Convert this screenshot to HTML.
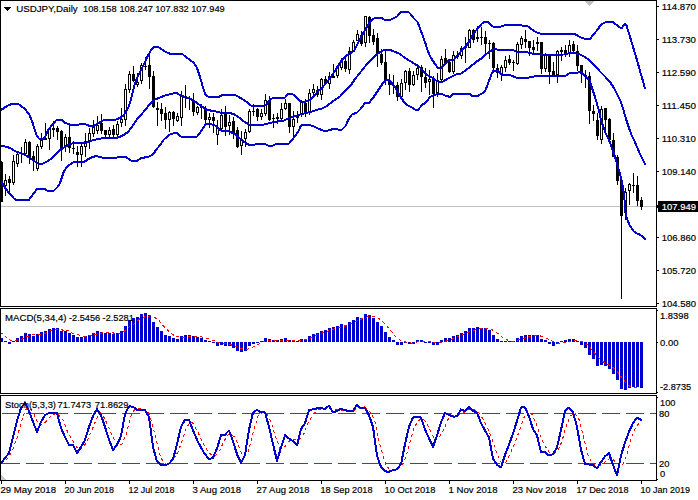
<!DOCTYPE html><html><head><meta charset="utf-8"><title>USDJPY,Daily</title>
<style>html,body{margin:0;padding:0;background:#fff;overflow:hidden}svg{display:block}text{font-family:"Liberation Sans",sans-serif;font-size:9.7px;fill:#000;stroke:#000;stroke-width:0.18px}</style></head><body>
<svg width="698" height="500" viewBox="0 0 698 500">
<rect width="698" height="500" fill="#fff"/>
<g shape-rendering="crispEdges">
<rect x="0" y="206" width="658" height="1" fill="#c0c0c0"/>
<rect x="585" y="1" width="9" height="1" fill="#c0c0c0"/>
<rect x="586" y="2" width="7" height="1" fill="#c0c0c0"/>
<rect x="587" y="3" width="5" height="1" fill="#c0c0c0"/>
<rect x="588" y="4" width="3" height="1" fill="#c0c0c0"/>
<rect x="589" y="5" width="1" height="1" fill="#c0c0c0"/>
<rect x="1" y="475" width="1" height="1" fill="#cccccc"/>
<rect x="1" y="476" width="2" height="1" fill="#cccccc"/>
<rect x="1" y="477" width="3" height="1" fill="#cccccc"/>
<rect x="1" y="478" width="4" height="1" fill="#cccccc"/>
<rect x="1" y="479" width="5" height="1" fill="#cccccc"/>
</g>
<g shape-rendering="crispEdges">
<rect x="1" y="161" width="1" height="41" fill="#000"/>
<rect x="0" y="162" width="3" height="40" fill="#000"/>
<rect x="5" y="174" width="1" height="22" fill="#000"/>
<rect x="4" y="180" width="3" height="6" fill="#000"/>
<rect x="5" y="181" width="1" height="4" fill="#fff"/>
<rect x="9" y="176" width="1" height="19" fill="#000"/>
<rect x="8" y="179" width="3" height="4" fill="#000"/>
<rect x="13" y="155" width="1" height="30" fill="#000"/>
<rect x="12" y="161" width="3" height="22" fill="#000"/>
<rect x="13" y="162" width="1" height="20" fill="#fff"/>
<rect x="17" y="153" width="1" height="14" fill="#000"/>
<rect x="16" y="154" width="3" height="10" fill="#000"/>
<rect x="17" y="155" width="1" height="8" fill="#fff"/>
<rect x="21" y="147" width="1" height="16" fill="#000"/>
<rect x="20" y="153" width="3" height="1" fill="#000"/>
<rect x="25" y="139" width="1" height="15" fill="#000"/>
<rect x="24" y="142" width="3" height="12" fill="#000"/>
<rect x="25" y="143" width="1" height="10" fill="#fff"/>
<rect x="29" y="141" width="1" height="23" fill="#000"/>
<rect x="28" y="142" width="3" height="15" fill="#000"/>
<rect x="33" y="151" width="1" height="20" fill="#000"/>
<rect x="32" y="156" width="3" height="5" fill="#000"/>
<rect x="37" y="144" width="1" height="27" fill="#000"/>
<rect x="36" y="146" width="3" height="23" fill="#000"/>
<rect x="37" y="147" width="1" height="21" fill="#fff"/>
<rect x="41" y="133" width="1" height="16" fill="#000"/>
<rect x="40" y="140" width="3" height="7" fill="#000"/>
<rect x="41" y="141" width="1" height="5" fill="#fff"/>
<rect x="45" y="123" width="1" height="17" fill="#000"/>
<rect x="44" y="138" width="3" height="2" fill="#000"/>
<rect x="49" y="128" width="1" height="22" fill="#000"/>
<rect x="48" y="128" width="3" height="11" fill="#000"/>
<rect x="49" y="129" width="1" height="9" fill="#fff"/>
<rect x="53" y="121" width="1" height="16" fill="#000"/>
<rect x="52" y="128" width="3" height="2" fill="#000"/>
<rect x="57" y="126" width="1" height="14" fill="#000"/>
<rect x="56" y="128" width="3" height="4" fill="#000"/>
<rect x="61" y="130" width="1" height="31" fill="#000"/>
<rect x="60" y="131" width="3" height="17" fill="#000"/>
<rect x="65" y="134" width="1" height="18" fill="#000"/>
<rect x="64" y="137" width="3" height="10" fill="#000"/>
<rect x="65" y="138" width="1" height="8" fill="#fff"/>
<rect x="69" y="125" width="1" height="28" fill="#000"/>
<rect x="68" y="137" width="3" height="11" fill="#000"/>
<rect x="73" y="141" width="1" height="13" fill="#000"/>
<rect x="72" y="148" width="3" height="1" fill="#000"/>
<rect x="77" y="146" width="1" height="21" fill="#000"/>
<rect x="76" y="152" width="3" height="3" fill="#000"/>
<rect x="81" y="142" width="1" height="25" fill="#000"/>
<rect x="80" y="146" width="3" height="9" fill="#000"/>
<rect x="81" y="147" width="1" height="7" fill="#fff"/>
<rect x="85" y="133" width="1" height="24" fill="#000"/>
<rect x="84" y="141" width="3" height="6" fill="#000"/>
<rect x="85" y="142" width="1" height="4" fill="#fff"/>
<rect x="89" y="128" width="1" height="21" fill="#000"/>
<rect x="88" y="133" width="3" height="8" fill="#000"/>
<rect x="89" y="134" width="1" height="6" fill="#fff"/>
<rect x="93" y="120" width="1" height="17" fill="#000"/>
<rect x="92" y="127" width="3" height="7" fill="#000"/>
<rect x="93" y="128" width="1" height="5" fill="#fff"/>
<rect x="97" y="116" width="1" height="18" fill="#000"/>
<rect x="96" y="125" width="3" height="6" fill="#000"/>
<rect x="97" y="126" width="1" height="4" fill="#fff"/>
<rect x="101" y="114" width="1" height="20" fill="#000"/>
<rect x="100" y="123" width="3" height="8" fill="#000"/>
<rect x="105" y="130" width="1" height="8" fill="#000"/>
<rect x="104" y="130" width="3" height="5" fill="#000"/>
<rect x="109" y="127" width="1" height="11" fill="#000"/>
<rect x="108" y="130" width="3" height="5" fill="#000"/>
<rect x="109" y="131" width="1" height="3" fill="#fff"/>
<rect x="113" y="125" width="1" height="12" fill="#000"/>
<rect x="112" y="129" width="3" height="6" fill="#000"/>
<rect x="117" y="121" width="1" height="16" fill="#000"/>
<rect x="116" y="124" width="3" height="11" fill="#000"/>
<rect x="117" y="125" width="1" height="9" fill="#fff"/>
<rect x="121" y="108" width="1" height="19" fill="#000"/>
<rect x="120" y="119" width="3" height="4" fill="#000"/>
<rect x="121" y="120" width="1" height="2" fill="#fff"/>
<rect x="125" y="84" width="1" height="42" fill="#000"/>
<rect x="124" y="89" width="3" height="31" fill="#000"/>
<rect x="125" y="90" width="1" height="29" fill="#fff"/>
<rect x="129" y="71" width="1" height="22" fill="#000"/>
<rect x="128" y="74" width="3" height="16" fill="#000"/>
<rect x="129" y="75" width="1" height="14" fill="#fff"/>
<rect x="133" y="66" width="1" height="16" fill="#000"/>
<rect x="132" y="74" width="3" height="7" fill="#000"/>
<rect x="137" y="73" width="1" height="14" fill="#000"/>
<rect x="136" y="82" width="3" height="3" fill="#000"/>
<rect x="137" y="83" width="1" height="1" fill="#fff"/>
<rect x="141" y="63" width="1" height="21" fill="#000"/>
<rect x="140" y="65" width="3" height="16" fill="#000"/>
<rect x="141" y="66" width="1" height="14" fill="#fff"/>
<rect x="145" y="57" width="1" height="13" fill="#000"/>
<rect x="144" y="66" width="3" height="1" fill="#000"/>
<rect x="149" y="54" width="1" height="35" fill="#000"/>
<rect x="148" y="65" width="3" height="12" fill="#000"/>
<rect x="153" y="71" width="1" height="37" fill="#000"/>
<rect x="152" y="76" width="3" height="31" fill="#000"/>
<rect x="157" y="102" width="1" height="24" fill="#000"/>
<rect x="156" y="108" width="3" height="2" fill="#000"/>
<rect x="161" y="103" width="1" height="18" fill="#000"/>
<rect x="160" y="109" width="3" height="5" fill="#000"/>
<rect x="165" y="107" width="1" height="22" fill="#000"/>
<rect x="164" y="113" width="3" height="7" fill="#000"/>
<rect x="169" y="111" width="1" height="21" fill="#000"/>
<rect x="168" y="112" width="3" height="8" fill="#000"/>
<rect x="169" y="113" width="1" height="6" fill="#fff"/>
<rect x="173" y="111" width="1" height="15" fill="#000"/>
<rect x="172" y="112" width="3" height="7" fill="#000"/>
<rect x="177" y="113" width="1" height="9" fill="#000"/>
<rect x="176" y="116" width="3" height="5" fill="#000"/>
<rect x="177" y="117" width="1" height="3" fill="#fff"/>
<rect x="181" y="91" width="1" height="35" fill="#000"/>
<rect x="180" y="96" width="3" height="22" fill="#000"/>
<rect x="181" y="97" width="1" height="20" fill="#fff"/>
<rect x="185" y="85" width="1" height="23" fill="#000"/>
<rect x="184" y="96" width="3" height="1" fill="#000"/>
<rect x="189" y="96" width="1" height="14" fill="#000"/>
<rect x="188" y="98" width="3" height="1" fill="#000"/>
<rect x="193" y="93" width="1" height="23" fill="#000"/>
<rect x="192" y="100" width="3" height="12" fill="#000"/>
<rect x="197" y="106" width="1" height="9" fill="#000"/>
<rect x="196" y="107" width="3" height="6" fill="#000"/>
<rect x="197" y="108" width="1" height="4" fill="#fff"/>
<rect x="201" y="104" width="1" height="15" fill="#000"/>
<rect x="200" y="107" width="3" height="1" fill="#000"/>
<rect x="205" y="106" width="1" height="17" fill="#000"/>
<rect x="204" y="110" width="3" height="10" fill="#000"/>
<rect x="209" y="113" width="1" height="15" fill="#000"/>
<rect x="208" y="117" width="3" height="3" fill="#000"/>
<rect x="209" y="118" width="1" height="1" fill="#fff"/>
<rect x="213" y="113" width="1" height="20" fill="#000"/>
<rect x="212" y="117" width="3" height="4" fill="#000"/>
<rect x="217" y="120" width="1" height="25" fill="#000"/>
<rect x="216" y="127" width="3" height="8" fill="#000"/>
<rect x="217" y="128" width="1" height="6" fill="#fff"/>
<rect x="221" y="109" width="1" height="21" fill="#000"/>
<rect x="220" y="115" width="3" height="14" fill="#000"/>
<rect x="221" y="116" width="1" height="12" fill="#fff"/>
<rect x="225" y="106" width="1" height="30" fill="#000"/>
<rect x="224" y="114" width="3" height="13" fill="#000"/>
<rect x="229" y="115" width="1" height="20" fill="#000"/>
<rect x="228" y="122" width="3" height="4" fill="#000"/>
<rect x="229" y="123" width="1" height="2" fill="#fff"/>
<rect x="233" y="117" width="1" height="22" fill="#000"/>
<rect x="232" y="121" width="3" height="12" fill="#000"/>
<rect x="237" y="127" width="1" height="21" fill="#000"/>
<rect x="236" y="130" width="3" height="17" fill="#000"/>
<rect x="241" y="131" width="1" height="24" fill="#000"/>
<rect x="240" y="139" width="3" height="7" fill="#000"/>
<rect x="241" y="140" width="1" height="5" fill="#fff"/>
<rect x="245" y="129" width="1" height="18" fill="#000"/>
<rect x="244" y="132" width="3" height="7" fill="#000"/>
<rect x="245" y="133" width="1" height="5" fill="#fff"/>
<rect x="249" y="109" width="1" height="24" fill="#000"/>
<rect x="248" y="111" width="3" height="21" fill="#000"/>
<rect x="249" y="112" width="1" height="19" fill="#fff"/>
<rect x="253" y="104" width="1" height="12" fill="#000"/>
<rect x="252" y="111" width="3" height="1" fill="#000"/>
<rect x="257" y="108" width="1" height="13" fill="#000"/>
<rect x="256" y="109" width="3" height="8" fill="#000"/>
<rect x="261" y="109" width="1" height="11" fill="#000"/>
<rect x="260" y="113" width="3" height="4" fill="#000"/>
<rect x="261" y="114" width="1" height="2" fill="#fff"/>
<rect x="265" y="94" width="1" height="22" fill="#000"/>
<rect x="264" y="100" width="3" height="14" fill="#000"/>
<rect x="265" y="101" width="1" height="12" fill="#fff"/>
<rect x="269" y="96" width="1" height="25" fill="#000"/>
<rect x="268" y="101" width="3" height="19" fill="#000"/>
<rect x="273" y="114" width="1" height="14" fill="#000"/>
<rect x="272" y="118" width="3" height="1" fill="#000"/>
<rect x="277" y="113" width="1" height="11" fill="#000"/>
<rect x="276" y="117" width="3" height="2" fill="#000"/>
<rect x="281" y="103" width="1" height="17" fill="#000"/>
<rect x="280" y="109" width="3" height="10" fill="#000"/>
<rect x="281" y="110" width="1" height="8" fill="#fff"/>
<rect x="285" y="99" width="1" height="11" fill="#000"/>
<rect x="284" y="103" width="3" height="6" fill="#000"/>
<rect x="285" y="104" width="1" height="4" fill="#fff"/>
<rect x="289" y="103" width="1" height="30" fill="#000"/>
<rect x="288" y="103" width="3" height="24" fill="#000"/>
<rect x="293" y="111" width="1" height="26" fill="#000"/>
<rect x="292" y="119" width="3" height="8" fill="#000"/>
<rect x="293" y="120" width="1" height="6" fill="#fff"/>
<rect x="297" y="111" width="1" height="12" fill="#000"/>
<rect x="296" y="116" width="3" height="2" fill="#000"/>
<rect x="301" y="100" width="1" height="17" fill="#000"/>
<rect x="300" y="102" width="3" height="12" fill="#000"/>
<rect x="301" y="103" width="1" height="10" fill="#fff"/>
<rect x="305" y="99" width="1" height="18" fill="#000"/>
<rect x="304" y="103" width="3" height="9" fill="#000"/>
<rect x="309" y="89" width="1" height="26" fill="#000"/>
<rect x="308" y="93" width="3" height="19" fill="#000"/>
<rect x="309" y="94" width="1" height="17" fill="#fff"/>
<rect x="313" y="84" width="1" height="12" fill="#000"/>
<rect x="312" y="89" width="3" height="4" fill="#000"/>
<rect x="313" y="90" width="1" height="2" fill="#fff"/>
<rect x="317" y="86" width="1" height="11" fill="#000"/>
<rect x="316" y="90" width="3" height="5" fill="#000"/>
<rect x="321" y="78" width="1" height="22" fill="#000"/>
<rect x="320" y="79" width="3" height="16" fill="#000"/>
<rect x="321" y="80" width="1" height="14" fill="#fff"/>
<rect x="325" y="76" width="1" height="7" fill="#000"/>
<rect x="324" y="79" width="3" height="4" fill="#000"/>
<rect x="329" y="72" width="1" height="17" fill="#000"/>
<rect x="328" y="76" width="3" height="8" fill="#000"/>
<rect x="329" y="77" width="1" height="6" fill="#fff"/>
<rect x="333" y="64" width="1" height="14" fill="#000"/>
<rect x="332" y="76" width="3" height="2" fill="#000"/>
<rect x="337" y="65" width="1" height="13" fill="#000"/>
<rect x="336" y="67" width="3" height="9" fill="#000"/>
<rect x="337" y="68" width="1" height="7" fill="#fff"/>
<rect x="341" y="58" width="1" height="12" fill="#000"/>
<rect x="340" y="60" width="3" height="8" fill="#000"/>
<rect x="341" y="61" width="1" height="6" fill="#fff"/>
<rect x="345" y="57" width="1" height="15" fill="#000"/>
<rect x="344" y="61" width="3" height="8" fill="#000"/>
<rect x="349" y="47" width="1" height="27" fill="#000"/>
<rect x="348" y="51" width="3" height="19" fill="#000"/>
<rect x="349" y="52" width="1" height="17" fill="#fff"/>
<rect x="353" y="40" width="1" height="12" fill="#000"/>
<rect x="352" y="42" width="3" height="9" fill="#000"/>
<rect x="353" y="43" width="1" height="7" fill="#fff"/>
<rect x="357" y="30" width="1" height="11" fill="#000"/>
<rect x="356" y="34" width="3" height="7" fill="#000"/>
<rect x="357" y="35" width="1" height="5" fill="#fff"/>
<rect x="361" y="31" width="1" height="15" fill="#000"/>
<rect x="360" y="35" width="3" height="9" fill="#000"/>
<rect x="365" y="16" width="1" height="31" fill="#000"/>
<rect x="364" y="16" width="3" height="27" fill="#000"/>
<rect x="365" y="17" width="1" height="25" fill="#fff"/>
<rect x="369" y="16" width="1" height="27" fill="#000"/>
<rect x="368" y="17" width="3" height="19" fill="#000"/>
<rect x="373" y="29" width="1" height="16" fill="#000"/>
<rect x="372" y="35" width="3" height="7" fill="#000"/>
<rect x="377" y="33" width="1" height="34" fill="#000"/>
<rect x="376" y="38" width="3" height="16" fill="#000"/>
<rect x="381" y="49" width="1" height="16" fill="#000"/>
<rect x="380" y="54" width="3" height="9" fill="#000"/>
<rect x="385" y="51" width="1" height="34" fill="#000"/>
<rect x="384" y="62" width="3" height="18" fill="#000"/>
<rect x="389" y="74" width="1" height="21" fill="#000"/>
<rect x="388" y="81" width="3" height="4" fill="#000"/>
<rect x="393" y="75" width="1" height="19" fill="#000"/>
<rect x="392" y="85" width="3" height="1" fill="#000"/>
<rect x="397" y="82" width="1" height="19" fill="#000"/>
<rect x="396" y="85" width="3" height="12" fill="#000"/>
<rect x="401" y="79" width="1" height="18" fill="#000"/>
<rect x="400" y="83" width="3" height="14" fill="#000"/>
<rect x="401" y="84" width="1" height="12" fill="#fff"/>
<rect x="405" y="70" width="1" height="20" fill="#000"/>
<rect x="404" y="71" width="3" height="12" fill="#000"/>
<rect x="405" y="72" width="1" height="10" fill="#fff"/>
<rect x="409" y="68" width="1" height="24" fill="#000"/>
<rect x="408" y="71" width="3" height="14" fill="#000"/>
<rect x="413" y="71" width="1" height="15" fill="#000"/>
<rect x="412" y="75" width="3" height="10" fill="#000"/>
<rect x="413" y="76" width="1" height="8" fill="#fff"/>
<rect x="417" y="64" width="1" height="16" fill="#000"/>
<rect x="416" y="68" width="3" height="7" fill="#000"/>
<rect x="417" y="69" width="1" height="5" fill="#fff"/>
<rect x="421" y="65" width="1" height="27" fill="#000"/>
<rect x="420" y="67" width="3" height="10" fill="#000"/>
<rect x="425" y="68" width="1" height="20" fill="#000"/>
<rect x="424" y="77" width="3" height="6" fill="#000"/>
<rect x="429" y="70" width="1" height="25" fill="#000"/>
<rect x="428" y="79" width="3" height="3" fill="#000"/>
<rect x="429" y="80" width="1" height="1" fill="#fff"/>
<rect x="433" y="76" width="1" height="32" fill="#000"/>
<rect x="432" y="79" width="3" height="15" fill="#000"/>
<rect x="437" y="73" width="1" height="24" fill="#000"/>
<rect x="436" y="80" width="3" height="13" fill="#000"/>
<rect x="437" y="81" width="1" height="11" fill="#fff"/>
<rect x="441" y="56" width="1" height="25" fill="#000"/>
<rect x="440" y="59" width="3" height="21" fill="#000"/>
<rect x="441" y="60" width="1" height="19" fill="#fff"/>
<rect x="445" y="49" width="1" height="15" fill="#000"/>
<rect x="444" y="58" width="3" height="6" fill="#000"/>
<rect x="449" y="61" width="1" height="12" fill="#000"/>
<rect x="448" y="62" width="3" height="10" fill="#000"/>
<rect x="453" y="51" width="1" height="23" fill="#000"/>
<rect x="452" y="55" width="3" height="17" fill="#000"/>
<rect x="453" y="56" width="1" height="15" fill="#fff"/>
<rect x="457" y="51" width="1" height="8" fill="#000"/>
<rect x="456" y="55" width="3" height="2" fill="#000"/>
<rect x="461" y="46" width="1" height="13" fill="#000"/>
<rect x="460" y="48" width="3" height="8" fill="#000"/>
<rect x="461" y="49" width="1" height="6" fill="#fff"/>
<rect x="465" y="37" width="1" height="26" fill="#000"/>
<rect x="464" y="46" width="3" height="2" fill="#000"/>
<rect x="469" y="29" width="1" height="19" fill="#000"/>
<rect x="468" y="30" width="3" height="18" fill="#000"/>
<rect x="469" y="31" width="1" height="16" fill="#fff"/>
<rect x="473" y="29" width="1" height="14" fill="#000"/>
<rect x="472" y="30" width="3" height="10" fill="#000"/>
<rect x="477" y="26" width="1" height="16" fill="#000"/>
<rect x="476" y="37" width="3" height="2" fill="#000"/>
<rect x="481" y="27" width="1" height="18" fill="#000"/>
<rect x="480" y="37" width="3" height="1" fill="#000"/>
<rect x="485" y="31" width="1" height="22" fill="#000"/>
<rect x="484" y="37" width="3" height="7" fill="#000"/>
<rect x="489" y="40" width="1" height="19" fill="#000"/>
<rect x="488" y="43" width="3" height="1" fill="#000"/>
<rect x="493" y="42" width="1" height="28" fill="#000"/>
<rect x="492" y="43" width="3" height="25" fill="#000"/>
<rect x="497" y="64" width="1" height="14" fill="#000"/>
<rect x="496" y="68" width="3" height="5" fill="#000"/>
<rect x="501" y="65" width="1" height="16" fill="#000"/>
<rect x="500" y="67" width="3" height="7" fill="#000"/>
<rect x="501" y="68" width="1" height="5" fill="#fff"/>
<rect x="505" y="56" width="1" height="16" fill="#000"/>
<rect x="504" y="60" width="3" height="8" fill="#000"/>
<rect x="505" y="61" width="1" height="6" fill="#fff"/>
<rect x="509" y="55" width="1" height="10" fill="#000"/>
<rect x="508" y="59" width="3" height="4" fill="#000"/>
<rect x="513" y="60" width="1" height="11" fill="#000"/>
<rect x="512" y="62" width="3" height="1" fill="#000"/>
<rect x="517" y="42" width="1" height="23" fill="#000"/>
<rect x="516" y="44" width="3" height="20" fill="#000"/>
<rect x="517" y="45" width="1" height="18" fill="#fff"/>
<rect x="521" y="36" width="1" height="13" fill="#000"/>
<rect x="520" y="38" width="3" height="7" fill="#000"/>
<rect x="521" y="39" width="1" height="5" fill="#fff"/>
<rect x="525" y="30" width="1" height="18" fill="#000"/>
<rect x="524" y="39" width="3" height="3" fill="#000"/>
<rect x="529" y="41" width="1" height="15" fill="#000"/>
<rect x="528" y="41" width="3" height="7" fill="#000"/>
<rect x="533" y="40" width="1" height="13" fill="#000"/>
<rect x="532" y="47" width="3" height="3" fill="#000"/>
<rect x="537" y="37" width="1" height="14" fill="#000"/>
<rect x="536" y="42" width="3" height="2" fill="#000"/>
<rect x="541" y="42" width="1" height="32" fill="#000"/>
<rect x="540" y="42" width="3" height="27" fill="#000"/>
<rect x="545" y="53" width="1" height="19" fill="#000"/>
<rect x="544" y="55" width="3" height="14" fill="#000"/>
<rect x="545" y="56" width="1" height="12" fill="#fff"/>
<rect x="549" y="56" width="1" height="28" fill="#000"/>
<rect x="548" y="56" width="3" height="16" fill="#000"/>
<rect x="553" y="62" width="1" height="14" fill="#000"/>
<rect x="552" y="71" width="3" height="4" fill="#000"/>
<rect x="557" y="50" width="1" height="33" fill="#000"/>
<rect x="556" y="51" width="3" height="24" fill="#000"/>
<rect x="557" y="52" width="1" height="22" fill="#fff"/>
<rect x="561" y="47" width="1" height="14" fill="#000"/>
<rect x="560" y="50" width="3" height="2" fill="#000"/>
<rect x="565" y="45" width="1" height="12" fill="#000"/>
<rect x="564" y="50" width="3" height="4" fill="#000"/>
<rect x="569" y="40" width="1" height="17" fill="#000"/>
<rect x="568" y="45" width="3" height="9" fill="#000"/>
<rect x="569" y="46" width="1" height="7" fill="#fff"/>
<rect x="573" y="41" width="1" height="12" fill="#000"/>
<rect x="572" y="44" width="3" height="7" fill="#000"/>
<rect x="577" y="45" width="1" height="26" fill="#000"/>
<rect x="576" y="51" width="3" height="15" fill="#000"/>
<rect x="581" y="65" width="1" height="18" fill="#000"/>
<rect x="580" y="65" width="3" height="9" fill="#000"/>
<rect x="585" y="70" width="1" height="18" fill="#000"/>
<rect x="584" y="75" width="3" height="1" fill="#000"/>
<rect x="589" y="72" width="1" height="52" fill="#000"/>
<rect x="588" y="76" width="3" height="35" fill="#000"/>
<rect x="593" y="105" width="1" height="16" fill="#000"/>
<rect x="592" y="111" width="3" height="3" fill="#000"/>
<rect x="597" y="113" width="1" height="27" fill="#000"/>
<rect x="596" y="120" width="3" height="16" fill="#000"/>
<rect x="601" y="106" width="1" height="38" fill="#000"/>
<rect x="600" y="109" width="3" height="31" fill="#000"/>
<rect x="601" y="110" width="1" height="29" fill="#fff"/>
<rect x="605" y="108" width="1" height="22" fill="#000"/>
<rect x="604" y="108" width="3" height="12" fill="#000"/>
<rect x="609" y="118" width="1" height="23" fill="#000"/>
<rect x="608" y="119" width="3" height="21" fill="#000"/>
<rect x="613" y="133" width="1" height="24" fill="#000"/>
<rect x="612" y="140" width="3" height="17" fill="#000"/>
<rect x="617" y="155" width="1" height="30" fill="#000"/>
<rect x="616" y="157" width="3" height="24" fill="#000"/>
<rect x="621" y="176" width="1" height="123" fill="#000"/>
<rect x="620" y="180" width="3" height="36" fill="#000"/>
<rect x="625" y="188" width="1" height="32" fill="#000"/>
<rect x="624" y="192" width="3" height="21" fill="#000"/>
<rect x="625" y="193" width="1" height="19" fill="#fff"/>
<rect x="629" y="183" width="1" height="22" fill="#000"/>
<rect x="628" y="184" width="3" height="7" fill="#000"/>
<rect x="629" y="185" width="1" height="5" fill="#fff"/>
<rect x="633" y="173" width="1" height="20" fill="#000"/>
<rect x="632" y="185" width="3" height="1" fill="#000"/>
<rect x="637" y="176" width="1" height="30" fill="#000"/>
<rect x="636" y="185" width="3" height="16" fill="#000"/>
<rect x="641" y="197" width="1" height="13" fill="#000"/>
<rect x="640" y="200" width="3" height="7" fill="#000"/>
</g>
<g shape-rendering="crispEdges">
<polyline points="1,110 7,106 13,103.5 19,104.5 24.5,108.5 29,114 31,118.5 33,124 35,131 37,136 39,138.5 42,139.5 45,137 48,130 52,125 56,120.5 59,119.5 62,120 65,123 70,124.5 76,125 84,123.8 90,126 94,126 100,122 104,120 106,119.5 116,119.5 120,118 124,115 128,108 130,103 132,95 134,87 136,80.5 140,72 144,64 148,55.5 152,48.5 155,46.5 158,47 162,49.5 166,52 170,53.8 182,53.8 186,57 190,60 194,63 197,68 200,77 202,84 204,91 206,95.5 209,97 219,97 222,95 228,95 235,95 239,97 246,101.5 251,105.5 262,106 266,105 269,101 272,98.5 282,98 285,97.5 288,94 291,93.5 294,95 298,99 301,101.5 306,101.5 310,100 314,96 318,91 322,88 326,83 330,78 334,72.5 338,66 342,60 345,56.5 349,54 353,51.5 354,51 357,45 361,37 365,30 369,23 373,19 377,17.5 381,17.5 384,19.5 390,20 393,18.5 397,16.5 401,12 403,11.5 408,11.7 410,13.5 414,18.5 417.5,22 420,28.5 423,36.5 426,45 428,51.5 431,58 435,64 438,68 441,68.5 445,64 449,59.5 454,59.5 458,55 462,50 466,46 470,40 474,33 478,28 482,23.5 485,21.8 488,22.2 492,26 494,26.8 500,26.8 504,25.5 506,24.8 521,24.8 523,26 528,26.5 532,29.5 536,32 541,34 575,34 578,36 581,37.5 585,38.8 590,38.8 594,34 598,29 601,24.5 605,22.5 613,22.2 616,24.5 620,27.5 622,28 624.5,24 626.5,25.5 628.5,32 631,40 634,50 637,60 640,71 643,81 645,88.5" fill="none" stroke="#0000cd" stroke-width="2" stroke-linejoin="round" stroke-linecap="round"/>
<polyline points="1,145.5 5,146.5 10,148 15,151 20,153 25,155 30,158 34,161 38,163.5 43,163.5 47,161.5 52,158 56,154 60,150 64,147.5 70,144 76,142.5 84,143.5 90,141 96,139.5 104,138 116,138 122,136 128,132 130,129.5 136.5,120 143,112.5 150,104 155,99.5 158,98.3 165,95.5 170,94.3 174,93.2 177,93.2 180,95 186,97.5 190,98.5 194,101 196,102.3 201,106 207,110 214,111 220,112.5 229,113 234,114 239,117.5 244,121.5 249,124.5 262,125 266,124 272,122.5 278,121.5 284,120.5 288,118.5 294,116.5 300,114.5 306,113 312,111.5 318,109.5 322,108.5 326,106.5 330,103.5 335,99.8 340,96.5 345,91 351,85 355,79 359,74 363,69 367,64 371,60 375,56 378,53.5 383,50.5 388,49.5 393,51 400,54 405,58 410,61 415,64 420,67.5 424,72 428,75.5 432,77.5 436,80.5 439,82 443,81.5 450,77.5 456,74.5 461,73.5 466,70 470,67 476,62 482,58 487,53.5 492,50 495,48.8 498,49.8 513,50 516,51.5 528,52.5 532,53.5 540,54 543,55 564,54.5 568,53.5 572,52.8 576,53.5 580,54.5 584,56.5 588,59 592,63 596,67 600,71.5 605,76.5 610,82 614,88 617,94 620,100 622,105 624,112 626,119 629,128 632,136 634,140 637,147 640,154 643,160 645,164" fill="none" stroke="#0000cd" stroke-width="2" stroke-linejoin="round" stroke-linecap="round"/>
<polyline points="1.5,182 5,188 10,194 14,198.5 16,199.8 29,199.8 33,194.5 37,189 45,189 47,190.5 54,190.5 58,186.5 60,183 62,177 64,171 67,167 70,164.5 74,162 84,162 90,158 96,156 100,157 104,158 116,158 120,156.5 126,157 130,160 132,161 137,161 141,158 148,157 153,154.5 156,150 160,145 164,139.5 169,135 174,133 177,133 181,136.5 197,136.5 200,133 203,128 206,124 210,124 215,125.5 221,130.5 229,131.5 234,133.5 238,137 243,141 247,144 250,145 254,145 256,144 265,144 268,145.5 273,145.5 275,144.5 282,144 289,143.5 292,140 296,135 299,130 301,125.5 303,125 309,125 314,126.5 318,128.5 323,130.5 326,131 330,130 335,128.5 338,129.5 342,129.5 346,125.5 348,120 352,114.5 357,112.5 361,108.5 365,103 369,102.8 373,98 377,92 381,86 384,81.5 387,79.5 390,80.5 393,85 396,88.5 400,96 404,102 408,105.5 412,107.5 416,110 418,110 422,105 426,102.5 430,97 434,95 438,94 442,94 446,96 450,96.8 453,94 469,93.5 472,96 477,96.5 481,94 484,92.5 486,89 488,83.5 490,78 492,73 493.5,70.8 498,71 501,74 502,74.8 509,74.5 512,76 516,77.5 529,77.5 534,76.5 539,75.5 566,75.5 568,74 570,73 578,72.5 581,71.5 584,75 587,78 589.5,80 591,85 593,91 595,97 597,104 599,111 601,120 603,126 606,134 609,140 612,148 614,154 616,160 618,167 620,174 621.5,180 622.5,185 623.5,191 624.5,200 625,209 626,215 627.5,220 629.5,225 632,229 634,231.5 637,233.5 640,234.8 643,237 645,239" fill="none" stroke="#0000cd" stroke-width="2" stroke-linejoin="round" stroke-linecap="round"/>
</g>
<g shape-rendering="crispEdges">
<rect x="0" y="338" width="3" height="4" fill="#0000cd"/>
<rect x="4" y="341" width="3" height="1" fill="#0000cd"/>
<rect x="8" y="342" width="3" height="2" fill="#0000cd"/>
<rect x="12" y="341" width="3" height="1" fill="#0000cd"/>
<rect x="16" y="338" width="3" height="4" fill="#0000cd"/>
<rect x="20" y="336" width="3" height="6" fill="#0000cd"/>
<rect x="24" y="333" width="3" height="9" fill="#0000cd"/>
<rect x="28" y="334" width="3" height="8" fill="#0000cd"/>
<rect x="32" y="336" width="3" height="6" fill="#0000cd"/>
<rect x="36" y="334" width="3" height="8" fill="#0000cd"/>
<rect x="40" y="332" width="3" height="10" fill="#0000cd"/>
<rect x="44" y="331" width="3" height="11" fill="#0000cd"/>
<rect x="48" y="329" width="3" height="13" fill="#0000cd"/>
<rect x="52" y="328" width="3" height="14" fill="#0000cd"/>
<rect x="56" y="328" width="3" height="14" fill="#0000cd"/>
<rect x="60" y="331" width="3" height="11" fill="#0000cd"/>
<rect x="64" y="331" width="3" height="11" fill="#0000cd"/>
<rect x="68" y="333" width="3" height="9" fill="#0000cd"/>
<rect x="72" y="335" width="3" height="7" fill="#0000cd"/>
<rect x="76" y="337" width="3" height="5" fill="#0000cd"/>
<rect x="80" y="337" width="3" height="5" fill="#0000cd"/>
<rect x="84" y="336" width="3" height="6" fill="#0000cd"/>
<rect x="88" y="335" width="3" height="7" fill="#0000cd"/>
<rect x="92" y="333" width="3" height="9" fill="#0000cd"/>
<rect x="96" y="331" width="3" height="11" fill="#0000cd"/>
<rect x="100" y="332" width="3" height="10" fill="#0000cd"/>
<rect x="104" y="333" width="3" height="9" fill="#0000cd"/>
<rect x="108" y="333" width="3" height="9" fill="#0000cd"/>
<rect x="112" y="334" width="3" height="8" fill="#0000cd"/>
<rect x="116" y="333" width="3" height="9" fill="#0000cd"/>
<rect x="120" y="331" width="3" height="11" fill="#0000cd"/>
<rect x="124" y="326" width="3" height="16" fill="#0000cd"/>
<rect x="128" y="320" width="3" height="22" fill="#0000cd"/>
<rect x="132" y="318" width="3" height="24" fill="#0000cd"/>
<rect x="136" y="317" width="3" height="25" fill="#0000cd"/>
<rect x="140" y="314" width="3" height="28" fill="#0000cd"/>
<rect x="144" y="313" width="3" height="29" fill="#0000cd"/>
<rect x="148" y="315" width="3" height="27" fill="#0000cd"/>
<rect x="152" y="322" width="3" height="20" fill="#0000cd"/>
<rect x="156" y="327" width="3" height="15" fill="#0000cd"/>
<rect x="160" y="331" width="3" height="11" fill="#0000cd"/>
<rect x="164" y="335" width="3" height="7" fill="#0000cd"/>
<rect x="168" y="336" width="3" height="6" fill="#0000cd"/>
<rect x="172" y="338" width="3" height="4" fill="#0000cd"/>
<rect x="176" y="339" width="3" height="3" fill="#0000cd"/>
<rect x="180" y="336" width="3" height="6" fill="#0000cd"/>
<rect x="184" y="335" width="3" height="7" fill="#0000cd"/>
<rect x="188" y="335" width="3" height="7" fill="#0000cd"/>
<rect x="192" y="336" width="3" height="6" fill="#0000cd"/>
<rect x="196" y="337" width="3" height="5" fill="#0000cd"/>
<rect x="200" y="338" width="3" height="4" fill="#0000cd"/>
<rect x="204" y="340" width="3" height="2" fill="#0000cd"/>
<rect x="208" y="341" width="3" height="1" fill="#0000cd"/>
<rect x="212" y="342" width="3" height="1" fill="#0000cd"/>
<rect x="216" y="342" width="3" height="4" fill="#0000cd"/>
<rect x="220" y="342" width="3" height="3" fill="#0000cd"/>
<rect x="224" y="342" width="3" height="4" fill="#0000cd"/>
<rect x="228" y="342" width="3" height="4" fill="#0000cd"/>
<rect x="232" y="342" width="3" height="6" fill="#0000cd"/>
<rect x="236" y="342" width="3" height="9" fill="#0000cd"/>
<rect x="240" y="342" width="3" height="10" fill="#0000cd"/>
<rect x="244" y="342" width="3" height="9" fill="#0000cd"/>
<rect x="248" y="342" width="3" height="4" fill="#0000cd"/>
<rect x="252" y="342" width="3" height="2" fill="#0000cd"/>
<rect x="256" y="342" width="3" height="1" fill="#0000cd"/>
<rect x="260" y="341" width="3" height="1" fill="#0000cd"/>
<rect x="264" y="338" width="3" height="4" fill="#0000cd"/>
<rect x="268" y="339" width="3" height="3" fill="#0000cd"/>
<rect x="272" y="340" width="3" height="2" fill="#0000cd"/>
<rect x="276" y="340" width="3" height="2" fill="#0000cd"/>
<rect x="280" y="339" width="3" height="3" fill="#0000cd"/>
<rect x="284" y="338" width="3" height="4" fill="#0000cd"/>
<rect x="288" y="340" width="3" height="2" fill="#0000cd"/>
<rect x="292" y="341" width="3" height="1" fill="#0000cd"/>
<rect x="296" y="341" width="3" height="1" fill="#0000cd"/>
<rect x="300" y="339" width="3" height="3" fill="#0000cd"/>
<rect x="304" y="339" width="3" height="3" fill="#0000cd"/>
<rect x="308" y="336" width="3" height="6" fill="#0000cd"/>
<rect x="312" y="334" width="3" height="8" fill="#0000cd"/>
<rect x="316" y="333" width="3" height="9" fill="#0000cd"/>
<rect x="320" y="331" width="3" height="11" fill="#0000cd"/>
<rect x="324" y="330" width="3" height="12" fill="#0000cd"/>
<rect x="328" y="328" width="3" height="14" fill="#0000cd"/>
<rect x="332" y="327" width="3" height="15" fill="#0000cd"/>
<rect x="336" y="326" width="3" height="16" fill="#0000cd"/>
<rect x="340" y="324" width="3" height="18" fill="#0000cd"/>
<rect x="344" y="325" width="3" height="17" fill="#0000cd"/>
<rect x="348" y="322" width="3" height="20" fill="#0000cd"/>
<rect x="352" y="320" width="3" height="22" fill="#0000cd"/>
<rect x="356" y="317" width="3" height="25" fill="#0000cd"/>
<rect x="360" y="318" width="3" height="24" fill="#0000cd"/>
<rect x="364" y="314" width="3" height="28" fill="#0000cd"/>
<rect x="368" y="315" width="3" height="27" fill="#0000cd"/>
<rect x="372" y="318" width="3" height="24" fill="#0000cd"/>
<rect x="376" y="322" width="3" height="20" fill="#0000cd"/>
<rect x="380" y="326" width="3" height="16" fill="#0000cd"/>
<rect x="384" y="332" width="3" height="10" fill="#0000cd"/>
<rect x="388" y="337" width="3" height="5" fill="#0000cd"/>
<rect x="392" y="340" width="3" height="2" fill="#0000cd"/>
<rect x="396" y="342" width="3" height="3" fill="#0000cd"/>
<rect x="400" y="342" width="3" height="3" fill="#0000cd"/>
<rect x="404" y="342" width="3" height="1" fill="#0000cd"/>
<rect x="408" y="342" width="3" height="2" fill="#0000cd"/>
<rect x="412" y="342" width="3" height="2" fill="#0000cd"/>
<rect x="416" y="340" width="3" height="2" fill="#0000cd"/>
<rect x="420" y="340" width="3" height="2" fill="#0000cd"/>
<rect x="424" y="342" width="3" height="1" fill="#0000cd"/>
<rect x="428" y="342" width="3" height="1" fill="#0000cd"/>
<rect x="432" y="342" width="3" height="3" fill="#0000cd"/>
<rect x="436" y="342" width="3" height="3" fill="#0000cd"/>
<rect x="440" y="340" width="3" height="2" fill="#0000cd"/>
<rect x="444" y="338" width="3" height="4" fill="#0000cd"/>
<rect x="448" y="338" width="3" height="4" fill="#0000cd"/>
<rect x="452" y="336" width="3" height="6" fill="#0000cd"/>
<rect x="456" y="335" width="3" height="7" fill="#0000cd"/>
<rect x="460" y="333" width="3" height="9" fill="#0000cd"/>
<rect x="464" y="331" width="3" height="11" fill="#0000cd"/>
<rect x="468" y="328" width="3" height="14" fill="#0000cd"/>
<rect x="472" y="328" width="3" height="14" fill="#0000cd"/>
<rect x="476" y="327" width="3" height="15" fill="#0000cd"/>
<rect x="480" y="328" width="3" height="14" fill="#0000cd"/>
<rect x="484" y="328" width="3" height="14" fill="#0000cd"/>
<rect x="488" y="330" width="3" height="12" fill="#0000cd"/>
<rect x="492" y="335" width="3" height="7" fill="#0000cd"/>
<rect x="496" y="339" width="3" height="3" fill="#0000cd"/>
<rect x="500" y="341" width="3" height="1" fill="#0000cd"/>
<rect x="504" y="341" width="3" height="1" fill="#0000cd"/>
<rect x="508" y="341" width="3" height="1" fill="#0000cd"/>
<rect x="512" y="341" width="3" height="1" fill="#0000cd"/>
<rect x="516" y="338" width="3" height="4" fill="#0000cd"/>
<rect x="520" y="336" width="3" height="6" fill="#0000cd"/>
<rect x="524" y="335" width="3" height="7" fill="#0000cd"/>
<rect x="528" y="335" width="3" height="7" fill="#0000cd"/>
<rect x="532" y="335" width="3" height="7" fill="#0000cd"/>
<rect x="536" y="335" width="3" height="7" fill="#0000cd"/>
<rect x="540" y="339" width="3" height="3" fill="#0000cd"/>
<rect x="544" y="340" width="3" height="2" fill="#0000cd"/>
<rect x="548" y="342" width="3" height="2" fill="#0000cd"/>
<rect x="552" y="342" width="3" height="4" fill="#0000cd"/>
<rect x="556" y="342" width="3" height="2" fill="#0000cd"/>
<rect x="560" y="341" width="3" height="1" fill="#0000cd"/>
<rect x="564" y="340" width="3" height="2" fill="#0000cd"/>
<rect x="568" y="339" width="3" height="3" fill="#0000cd"/>
<rect x="572" y="339" width="3" height="3" fill="#0000cd"/>
<rect x="576" y="341" width="3" height="1" fill="#0000cd"/>
<rect x="580" y="342" width="3" height="3" fill="#0000cd"/>
<rect x="584" y="342" width="3" height="6" fill="#0000cd"/>
<rect x="588" y="342" width="3" height="13" fill="#0000cd"/>
<rect x="592" y="342" width="3" height="17" fill="#0000cd"/>
<rect x="596" y="342" width="3" height="24" fill="#0000cd"/>
<rect x="600" y="342" width="3" height="23" fill="#0000cd"/>
<rect x="604" y="342" width="3" height="24" fill="#0000cd"/>
<rect x="608" y="342" width="3" height="27" fill="#0000cd"/>
<rect x="612" y="342" width="3" height="32" fill="#0000cd"/>
<rect x="616" y="342" width="3" height="38" fill="#0000cd"/>
<rect x="620" y="342" width="3" height="47" fill="#0000cd"/>
<rect x="624" y="342" width="3" height="48" fill="#0000cd"/>
<rect x="628" y="342" width="3" height="46" fill="#0000cd"/>
<rect x="632" y="342" width="3" height="45" fill="#0000cd"/>
<rect x="636" y="342" width="3" height="45" fill="#0000cd"/>
<rect x="640" y="342" width="3" height="46" fill="#0000cd"/>
</g>
<polyline points="0,332 10,340 13,340.5 21,339.5 26,337 32,335 38,334.5 45,333.5 50,331 56,329.5 62,329.3 64,331.5 68,330.2 73,333.5 79,335 85,336.8 92,335.5 98,334.2 104,332.5 110,332.3 116,333.5 122,333 126,330 130,326 134,324 140,318.5 146,316.5 152,315.8 158,319.5 164,326.5 170,332.5 175,336 181,337.5 187,337 193,336.5 199,336 205,338 211,339.5 217,342 223,343.5 229,344.3 235,346 241,348.5 247,349.5 253,347 259,344.2 261,343 265,341.2 271,340.2 277,340.5 283,340.2 289,340.5 296,340.2 301,340.5 307,339.5 313,337 319,334.2 325,332 331,329.8 337,328 343,326.5 349,324.5 355,322 361,319.2 367,317 373,316.3 379,318.5 385,324 390,329.5 396,337 401,340.5 407,342.5 413,343.3 419,341.5 425,341.5 431,341.3 437,343.2 443,342 449,340.3 455,337.8 461,335.2 467,333 473,330.5 479,328.8 485,328.5 491,329 497,333 503,337.5 509,340.8 513,341.3 516,340.5 521,339.3 527,337.2 533,335.5 539,335.5 545,337.5 551,340.5 557,343.2 563,343 569,341.2 575,340.5 581.7,341.3 587.5,344.7 593,351 597,356.2 603.5,362 610,365.4 615.5,369.4 620,375 625,382 630,386.6 637,387.5" fill="none" stroke="#ff0000" stroke-width="1" stroke-linejoin="round" stroke-linecap="butt" stroke-dasharray="3 3" shape-rendering="crispEdges"/>
<g shape-rendering="crispEdges">
<rect x="2" y="413" width="18" height="1" fill="#ff0000"/>
<rect x="26" y="413" width="18" height="1" fill="#ff0000"/>
<rect x="50" y="413" width="18" height="1" fill="#ff0000"/>
<rect x="74" y="413" width="18" height="1" fill="#ff0000"/>
<rect x="98" y="413" width="18" height="1" fill="#ff0000"/>
<rect x="122" y="413" width="18" height="1" fill="#ff0000"/>
<rect x="146" y="413" width="18" height="1" fill="#ff0000"/>
<rect x="170" y="413" width="18" height="1" fill="#ff0000"/>
<rect x="194" y="413" width="18" height="1" fill="#ff0000"/>
<rect x="218" y="413" width="18" height="1" fill="#ff0000"/>
<rect x="242" y="413" width="18" height="1" fill="#ff0000"/>
<rect x="266" y="413" width="18" height="1" fill="#ff0000"/>
<rect x="290" y="413" width="18" height="1" fill="#ff0000"/>
<rect x="314" y="413" width="18" height="1" fill="#ff0000"/>
<rect x="338" y="413" width="18" height="1" fill="#ff0000"/>
<rect x="362" y="413" width="18" height="1" fill="#ff0000"/>
<rect x="386" y="413" width="18" height="1" fill="#ff0000"/>
<rect x="410" y="413" width="18" height="1" fill="#ff0000"/>
<rect x="434" y="413" width="18" height="1" fill="#ff0000"/>
<rect x="458" y="413" width="18" height="1" fill="#ff0000"/>
<rect x="482" y="413" width="18" height="1" fill="#ff0000"/>
<rect x="506" y="413" width="18" height="1" fill="#ff0000"/>
<rect x="530" y="413" width="18" height="1" fill="#ff0000"/>
<rect x="554" y="413" width="18" height="1" fill="#ff0000"/>
<rect x="578" y="413" width="18" height="1" fill="#ff0000"/>
<rect x="602" y="413" width="18" height="1" fill="#ff0000"/>
<rect x="626" y="413" width="18" height="1" fill="#ff0000"/>
<rect x="650" y="413" width="6" height="1" fill="#ff0000"/>
<rect x="2" y="463" width="18" height="1" fill="#ff0000"/>
<rect x="26" y="463" width="18" height="1" fill="#ff0000"/>
<rect x="50" y="463" width="18" height="1" fill="#ff0000"/>
<rect x="74" y="463" width="18" height="1" fill="#ff0000"/>
<rect x="98" y="463" width="18" height="1" fill="#ff0000"/>
<rect x="122" y="463" width="18" height="1" fill="#ff0000"/>
<rect x="146" y="463" width="18" height="1" fill="#ff0000"/>
<rect x="170" y="463" width="18" height="1" fill="#ff0000"/>
<rect x="194" y="463" width="18" height="1" fill="#ff0000"/>
<rect x="218" y="463" width="18" height="1" fill="#ff0000"/>
<rect x="242" y="463" width="18" height="1" fill="#ff0000"/>
<rect x="266" y="463" width="18" height="1" fill="#ff0000"/>
<rect x="290" y="463" width="18" height="1" fill="#ff0000"/>
<rect x="314" y="463" width="18" height="1" fill="#ff0000"/>
<rect x="338" y="463" width="18" height="1" fill="#ff0000"/>
<rect x="362" y="463" width="18" height="1" fill="#ff0000"/>
<rect x="386" y="463" width="18" height="1" fill="#ff0000"/>
<rect x="410" y="463" width="18" height="1" fill="#ff0000"/>
<rect x="434" y="463" width="18" height="1" fill="#ff0000"/>
<rect x="458" y="463" width="18" height="1" fill="#ff0000"/>
<rect x="482" y="463" width="18" height="1" fill="#ff0000"/>
<rect x="506" y="463" width="18" height="1" fill="#ff0000"/>
<rect x="530" y="463" width="18" height="1" fill="#ff0000"/>
<rect x="554" y="463" width="18" height="1" fill="#ff0000"/>
<rect x="578" y="463" width="18" height="1" fill="#ff0000"/>
<rect x="602" y="463" width="18" height="1" fill="#ff0000"/>
<rect x="626" y="463" width="18" height="1" fill="#ff0000"/>
<rect x="650" y="463" width="6" height="1" fill="#ff0000"/>
</g>
<polyline points="1.4,463.5 7.2,459 12.2,451.2 17.3,436.8 21.6,421 25.2,410.9 27,408 30,408.5 33,412 36,419 39,424 41,425 44.7,423 49.7,417.4 53,415 57.6,413 60,416.5 63.4,420.5 67.7,432.5 73.5,441.9 78.5,449.8 83.6,447 87.9,439 92.2,429.6 96.5,418.8 100,412.4 104.6,418.2 109,428.3 113.3,437.6 117.6,445.5 122,444.1 126.3,434 130.6,416.7 135,408.8 142,408.4 148,411.7 152.2,423.2 156.5,441.2 161,458.5 166.6,465 172.4,460.7 178,452 182.5,439.8 186.8,426.8 191,421.8 193.4,424 197.8,431.9 202,441.2 206.4,449.2 210.7,454.2 215.8,455.6 220,449.9 224.4,440.5 228.7,434 233.8,436.2 238,444.1 242.4,455.6 247.5,454.2 251,441.2 254.7,426.8 258.3,415.3 262.6,412.4 267,413.9 271.2,422.5 275.6,436.9 280,448.4 284.2,447.7 288.5,441.5 293.8,439 299.5,439.8 303.8,434 308,423.2 313.2,413.9 318.3,409.8 324,408.8 329.8,408.1 335.5,409.2 341.3,410.7 347,410.2 352.8,410.7 358.6,408.8 364.4,406.6 370,411.7 374.5,419.6 379,441 382.5,454 386,465 390.4,470.7 396,470.2 401,466.4 405.5,458.4 409,445.5 413.5,429.6 417.8,421 422,418.4 426.4,422.4 430.8,431.8 435,440.4 439.4,437.5 443.7,429.6 448,419.5 452.4,415.2 456.7,415.2 461,413.8 465.3,412 469.8,408.8 475.5,410.2 479.8,413.8 484.2,421 488.5,429.7 492.8,441.2 497,453.5 501.5,462.8 505.8,462.8 510,454.2 514.4,444.1 518.7,432.6 523,419.6 527.4,411 531.7,413.9 536,423.2 540.4,435.5 544.7,445.6 549,452 553.3,453.5 557.7,450.6 561.8,441.9 566,426.7 570.4,415.9 574.7,413 579,419.5 583.4,436.8 587.7,454 592,463.5 596.3,464.9 600.7,465.6 605,462 610.8,457.7 615,461.3 619.4,464.9 622.3,465.6 626.6,455.5 629.5,444 632.4,434.7 636,426.7 641,421" fill="none" stroke="#ff0000" stroke-width="1" stroke-linejoin="round" stroke-linecap="butt" stroke-dasharray="3 3" shape-rendering="crispEdges"/>
<polyline points="1,463.5 5,458 9,453 13,437 17,421 21,408 25,403 29,411 33,422 37,432 41,422 45,415 49,413 53,413 57,413 61,428 65,437 69,445 73,445 77,453 81,447 85,440 89,427 93,416 97,409 101,415.3 105,426.8 109,439.8 113,449.9 117,444.8 121,436.2 125,413.9 129,406.4 133,406.6 137,409.8 141,409.8 145,410.2 149,416.7 153,447 157,461.4 161,465.4 165,465.4 169,463.6 173,459.2 177,444.1 181,426.8 185,419.6 189,419.6 193,430.4 197,439.8 201,447.7 205,454.2 209,459.2 213,457.8 217,448.4 221,435.2 225,434.7 229,430.4 233,441.2 237,454.2 241,462.8 245,454.9 249,429.7 253,412.4 257,409.8 261,412.4 265,412.4 269,426.8 273,444.1 277,460.7 281,447.7 285,435.2 289,438.5 293,441.2 297,445.6 301,429 305,423.2 309,410.2 313,409.2 317,408.4 321,408.1 325,408.8 329,405.9 333,412.4 337,411 341,408.8 345,410.2 349,411 353,410.7 357,404.9 361,408.4 365,407.8 369,415.3 373,426.8 377,455.5 381,467 385,471.4 389,471.7 393,470.2 397,469.2 401,464.2 405,444 409,426.7 413,417.4 417,416.9 421,417.4 425,429.6 429,438.3 433,446.9 437,435.4 441,422.4 445,413 449,414.9 453,416.6 457,416.4 461,409.4 465,411.3 469,407 473,411 477,412.4 481,423.2 485,430.4 489,437.6 493,458.5 497,465 501,467.5 505,454.9 509,444.8 513,433.3 517,421 521,407.4 525,407.4 529,416.7 533,429 537,435.5 541,452 545,452 549,455.6 553,454.2 557,447.6 561,430 565,410.9 569,407.5 573,412.3 577,426.7 581,449.8 585,463.9 589,464.5 593,464.9 597,468.5 601,462 605,456.3 609,453 613,464.9 617,475.4 621,455.5 625,442.6 629,431.8 633,423.1 637,417.8 641,419.8" fill="none" stroke="#0000cd" stroke-width="2" stroke-linejoin="round" stroke-linecap="round" shape-rendering="crispEdges"/>
<g shape-rendering="crispEdges">
<rect x="0" y="0" width="657" height="1" fill="#000"/>
<rect x="0" y="0" width="1" height="481" fill="#000"/>
<rect x="656" y="0" width="1" height="307" fill="#000"/>
<rect x="0" y="306" width="657" height="1" fill="#000"/>
<rect x="0" y="308" width="657" height="1" fill="#000"/>
<rect x="656" y="308" width="1" height="86" fill="#000"/>
<rect x="0" y="393" width="657" height="1" fill="#000"/>
<rect x="0" y="395" width="657" height="1" fill="#000"/>
<rect x="656" y="395" width="1" height="86" fill="#000"/>
<rect x="0" y="480" width="657" height="1" fill="#000"/>
<rect x="0" y="307" width="698" height="1" fill="#fff"/>
<rect x="0" y="394" width="698" height="1" fill="#fff"/>
<rect x="657" y="6" width="2" height="1" fill="#000"/>
<rect x="657" y="39" width="2" height="1" fill="#000"/>
<rect x="657" y="72" width="2" height="1" fill="#000"/>
<rect x="657" y="105" width="2" height="1" fill="#000"/>
<rect x="657" y="138" width="2" height="1" fill="#000"/>
<rect x="657" y="171" width="2" height="1" fill="#000"/>
<rect x="657" y="237" width="2" height="1" fill="#000"/>
<rect x="657" y="270" width="2" height="1" fill="#000"/>
<rect x="657" y="303" width="2" height="1" fill="#000"/>
<rect x="657" y="310" width="1" height="1" fill="#000"/>
<rect x="657" y="342" width="1" height="1" fill="#000"/>
<rect x="657" y="392" width="1" height="1" fill="#000"/>
<rect x="657" y="397" width="1" height="1" fill="#000"/>
<rect x="657" y="479" width="1" height="1" fill="#000"/>
<rect x="1" y="480" width="1" height="4" fill="#000"/>
<rect x="65" y="480" width="1" height="4" fill="#000"/>
<rect x="129" y="480" width="1" height="4" fill="#000"/>
<rect x="193" y="480" width="1" height="4" fill="#000"/>
<rect x="257" y="480" width="1" height="4" fill="#000"/>
<rect x="321" y="480" width="1" height="4" fill="#000"/>
<rect x="385" y="480" width="1" height="4" fill="#000"/>
<rect x="449" y="480" width="1" height="4" fill="#000"/>
<rect x="513" y="480" width="1" height="4" fill="#000"/>
<rect x="577" y="480" width="1" height="4" fill="#000"/>
<rect x="641" y="480" width="1" height="4" fill="#000"/>
<rect x="658" y="201" width="40" height="11" fill="#000"/>
<rect x="657" y="205" width="1" height="3" fill="#000"/>
</g>
<g shape-rendering="crispEdges">
<rect x="4" y="7" width="7" height="1" fill="#000"/>
<rect x="5" y="8" width="5" height="1" fill="#000"/>
<rect x="6" y="9" width="3" height="1" fill="#000"/>
<rect x="7" y="10" width="1" height="1" fill="#000"/>
</g>
<text x="16.2" y="12" textLength="61.5" lengthAdjust="spacingAndGlyphs">USDJPY,Daily</text>
<text x="83" y="12" textLength="33.6" lengthAdjust="spacingAndGlyphs">108.158</text>
<text x="119.4" y="12" textLength="33.6" lengthAdjust="spacingAndGlyphs">108.247</text>
<text x="155.2" y="12" textLength="33.6" lengthAdjust="spacingAndGlyphs">107.832</text>
<text x="191.2" y="12" textLength="33.6" lengthAdjust="spacingAndGlyphs">107.949</text>
<text x="661.8" y="10" textLength="34.2" lengthAdjust="spacingAndGlyphs">114.870</text>
<text x="661.8" y="43" textLength="34.2" lengthAdjust="spacingAndGlyphs">113.730</text>
<text x="661.8" y="76" textLength="34.2" lengthAdjust="spacingAndGlyphs">112.590</text>
<text x="661.8" y="109" textLength="34.2" lengthAdjust="spacingAndGlyphs">111.450</text>
<text x="661.8" y="142" textLength="34.2" lengthAdjust="spacingAndGlyphs">110.310</text>
<text x="661.8" y="175" textLength="34.2" lengthAdjust="spacingAndGlyphs">109.140</text>
<text x="661.8" y="241" textLength="34.2" lengthAdjust="spacingAndGlyphs">106.860</text>
<text x="661.8" y="274" textLength="34.2" lengthAdjust="spacingAndGlyphs">105.720</text>
<text x="661.8" y="307" textLength="34.2" lengthAdjust="spacingAndGlyphs">104.580</text>
<text x="661.8" y="210" textLength="34.2" lengthAdjust="spacingAndGlyphs" style="fill:#fff;stroke:#fff">107.949</text>
<text x="660" y="319" textLength="28.6" lengthAdjust="spacingAndGlyphs">1.8398</text>
<text x="660" y="346" textLength="18.4" lengthAdjust="spacingAndGlyphs">0.00</text>
<text x="660" y="390" textLength="31.2" lengthAdjust="spacingAndGlyphs">-2.8735</text>
<text x="660" y="406" textLength="15.4" lengthAdjust="spacingAndGlyphs">100</text>
<text x="659" y="417" textLength="10.4" lengthAdjust="spacingAndGlyphs">80</text>
<text x="659" y="467" textLength="10.4" lengthAdjust="spacingAndGlyphs">20</text>
<text x="660" y="477" textLength="5.2" lengthAdjust="spacingAndGlyphs">0</text>
<text x="5" y="321" textLength="61.5" lengthAdjust="spacingAndGlyphs">MACD(5,34,4)</text>
<text x="69" y="321" textLength="31.2" lengthAdjust="spacingAndGlyphs">-2.5456</text>
<text x="102.6" y="321" textLength="31.2" lengthAdjust="spacingAndGlyphs">-2.5281</text>
<text x="5" y="408" textLength="51" lengthAdjust="spacingAndGlyphs">Stoch(5,3,3)</text>
<text x="57.5" y="408" textLength="33.6" lengthAdjust="spacingAndGlyphs">71.7473</text>
<text x="94.8" y="408" textLength="33.6" lengthAdjust="spacingAndGlyphs">71.8629</text>
<text x="0.5" y="493" textLength="55.5" lengthAdjust="spacingAndGlyphs">29 May 2018</text>
<text x="64.5" y="493" textLength="49.5" lengthAdjust="spacingAndGlyphs">20 Jun 2018</text>
<text x="128.5" y="493" textLength="46" lengthAdjust="spacingAndGlyphs">12 Jul 2018</text>
<text x="192.5" y="493" textLength="48.5" lengthAdjust="spacingAndGlyphs">3 Aug 2018</text>
<text x="256.5" y="493" textLength="53" lengthAdjust="spacingAndGlyphs">27 Aug 2018</text>
<text x="320.5" y="493" textLength="52" lengthAdjust="spacingAndGlyphs">18 Sep 2018</text>
<text x="384.5" y="493" textLength="51" lengthAdjust="spacingAndGlyphs">10 Oct 2018</text>
<text x="448.5" y="493" textLength="49" lengthAdjust="spacingAndGlyphs">1 Nov 2018</text>
<text x="512.5" y="493" textLength="54" lengthAdjust="spacingAndGlyphs">23 Nov 2018</text>
<text x="576.5" y="493" textLength="52" lengthAdjust="spacingAndGlyphs">17 Dec 2018</text>
<text x="640.5" y="493" textLength="49.5" lengthAdjust="spacingAndGlyphs">10 Jan 2019</text>
</svg></body></html>
